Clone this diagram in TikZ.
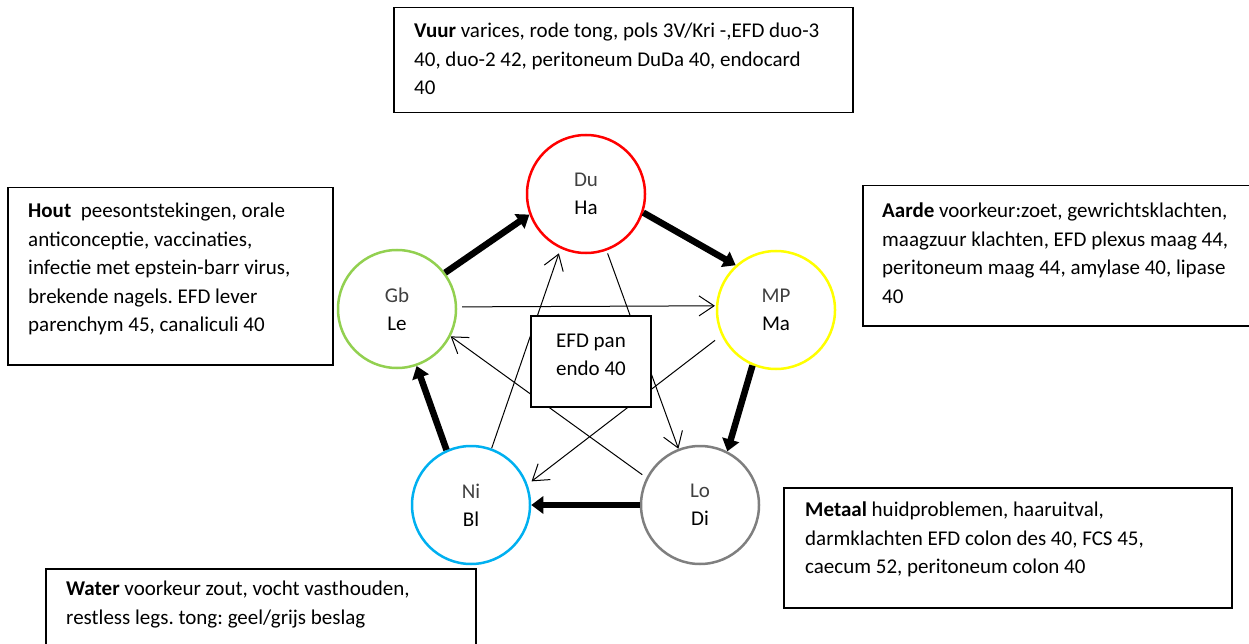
\documentclass[tikz,border=0pt]{standalone}
\usepackage{fontspec}
\setmainfont{Carlito}
\usetikzlibrary{arrows.meta,backgrounds}
\definecolor{cfire}{HTML}{FF0000}
\definecolor{cwood}{HTML}{92D050}
\definecolor{cearth}{HTML}{FFFF00}
\definecolor{cwater}{HTML}{00B0F0}
\definecolor{cmetal}{HTML}{7F7F7F}
\definecolor{lighttext}{HTML}{404040}
\frenchspacing
\begin{document}
\frenchspacing
\begin{tikzpicture}[x=1pt,y=-1pt,
  every node/.style={font=\fontsize{21}{28.5}\selectfont},
  elem/.style={circle, draw, line width=2.5pt, minimum size=118pt, inner sep=0pt, align=center, fill=white,
    font=\fontsize{21}{28}\selectfont},
  infobox/.style={draw=black, line width=1.5pt, rectangle, inner sep=0pt, anchor=north west},
  infotext/.style={anchor=north west, inner sep=0pt, align=left},
  strongarrow/.style={line width=6.5pt, -{Triangle[length=12pt,width=17pt]}},
  thinarrow/.style={line width=1pt, -{Straight Barb[length=15pt,width=20pt]}},
]
\useasboundingbox (0,0) rectangle (1249,644);

% element circles
\node[elem, draw=cfire]  (Ha) at (586,194) {{\color{lighttext}Du}\\Ha};
\node[elem, draw=cwood]  (Le) at (397,309) {{\color{lighttext}Gb}\\Le};
\node[elem, draw=cearth] (Ma) at (776,310) {{\color{lighttext}MP}\\Ma};
\node[elem, draw=cmetal] (Di) at (700,505) {{\color{lighttext}Lo}\\Di};
\node[elem, draw=cwater] (Bl) at (471,505) {{\color{lighttext}Ni}\\Bl};

% centre box
\node[draw, line width=1.5pt, fill=white, minimum width=120pt, minimum height=91pt, align=center,
      inner sep=0pt, text depth=13pt] (efd) at (591,361.5) {EFD pan\\endo 40};

% text boxes
\node[infobox, minimum width=459pt, minimum height=105pt] (vuurbox) at (393,7) {};
\node[infotext] (vuurtext) at (414,23) {\textbf{Vuur} varices, rode tong, pols 3V/Kri -,EFD duo-3\\40, duo-2 42, peritoneum DuDa 40, endocard\\40};

\node[infobox, minimum width=325pt, minimum height=177pt] (houtbox) at (7,187) {};
\node[infotext] (houttext) at (28,203) {\textbf{Hout}\ \ peesontstekingen, orale\\anticonceptie, vaccinaties,\\infectie met epstein-barr virus,\\brekende nagels. EFD lever\\parenchym 45, canaliculi 40};

\node[infobox, minimum width=400pt, minimum height=140pt] (aardebox) at (862,185) {};
\node[infotext] (aardetext) at (882,203) {\textbf{Aarde} voorkeur:zoet, gewrichtsklachten,\\maagzuur klachten, EFD plexus maag 44,\\peritoneum maag 44, amylase 40, lipase\\40};

\node[infobox, minimum width=448pt, minimum height=120pt] (metaalbox) at (783,487) {};
\node[infotext] (metaaltext) at (805,502) {\textbf{Metaal} huidproblemen, haaruitval,\\darmklachten EFD colon des 40, FCS 45,\\caecum 52, peritoneum colon 40};

\node[infobox, minimum width=430pt, minimum height=100pt] (waterbox) at (45,568) {};
\node[infotext] (watertext) at (66,581) {\textbf{Water} voorkeur zout, vocht vasthouden,\\restless legs. tong: geel/grijs beslag};

% connectors
\begin{pgfonlayer}{background}
\draw[thinarrow, shorten <=5pt, shorten >=1pt] (Le.2) -- (Ma.176);
\draw[thinarrow, shorten >=5pt] (Bl.70) -- (Ha.245);
\draw[thinarrow, shorten <=3pt] (Ha.290) -- (Di.111);
\draw[thinarrow, shorten <=8pt, shorten >=5pt] (Ma.205) -- (Bl.20);
\draw[thinarrow, shorten <=5pt] (Di.153) -- (Le.333);
\end{pgfonlayer}

\draw[strongarrow] (Le.37) -- (Ha.200);
\draw[strongarrow] (Ha.342) -- (Ma.132);
\draw[strongarrow] (Ma.247) -- (Di.63);
\draw[strongarrow] (Di.180) -- (Bl.0);
\draw[strongarrow] (Bl.114) -- (Le.289);
\end{tikzpicture}
\end{document}
